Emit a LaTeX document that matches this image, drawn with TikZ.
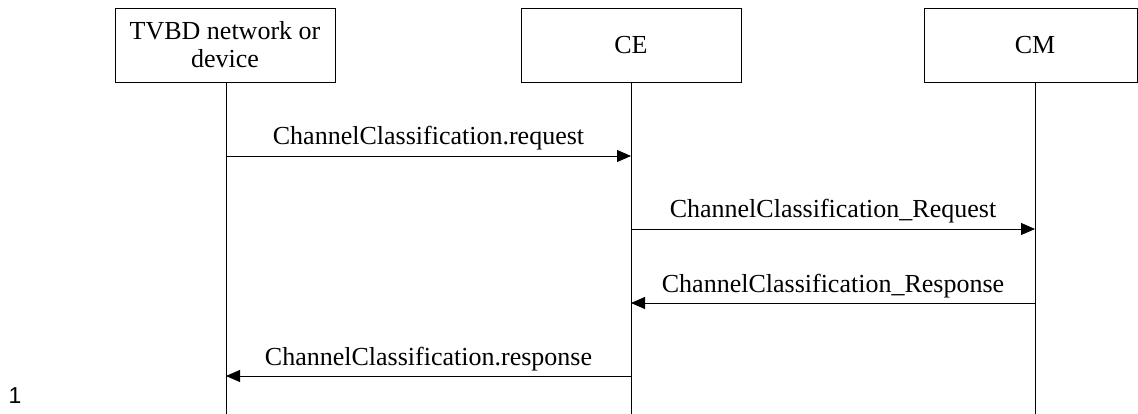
\documentclass[tikz,border=0pt]{standalone}
\usepackage{fontspec}
\setmainfont{Liberation Serif}
\newfontfamily\numfont{Liberation Sans}
\usetikzlibrary{arrows.meta}
\begin{document}
\begin{tikzpicture}[x=1pt,y=-1pt,
  ent/.style={draw,line width=0.8pt,minimum height=74pt,inner sep=0pt,align=center,font=\fontsize{26}{28}\selectfont},
  life/.style={line width=0.8pt},
  msg/.style={line width=0.8pt,-{Triangle[length=14pt,width=12pt]}},
  lbl/.style={font=\fontsize{26}{28}\selectfont,inner sep=0pt,anchor=base}]
\useasboundingbox (0,0) rectangle (1138,414);
\node[ent,minimum width=220pt] (tv) at (225,45) {TVBD network or\\device};
\node[ent,minimum width=220pt] (ce) at (631,45) {CE};
\node[ent,minimum width=213pt] (cm) at (1030.5,45) {};
\node[font=\fontsize{26}{28}\selectfont] (cmt) at (1035,45) {CM};
\coordinate (tvb) at (226,414);
\coordinate (ceb) at (631,414);
\coordinate (cmb) at (1035,414);
\coordinate (tvt) at (226,82);
\coordinate (cet) at (631,82);
\coordinate (cmt2) at (1035,82);
\draw[life] (tvt) -- (tvb);
\draw[life] (cet) -- (ceb);
\draw[life] (cmt2) -- (cmb);
\coordinate (a1s) at (226,156); \coordinate (a1e) at (631,156);
\coordinate (a2s) at (631,229); \coordinate (a2e) at (1035,229);
\coordinate (a3s) at (1035,303); \coordinate (a3e) at (631,303);
\coordinate (a4s) at (631,376); \coordinate (a4e) at (226,376);
\draw[msg] (a1s) -- (a1e);
\draw[msg] (a2s) -- (a2e);
\draw[msg] (a3s) -- (a3e);
\draw[msg] (a4s) -- (a4e);
\node[lbl] (l1) at (428.5,145) {ChannelClassification.request};
\node[lbl] (l2) at (833,218) {ChannelClassification\_Request};
\node[lbl] (l3) at (833,292) {ChannelClassification\_Response};
\node[lbl] (l4) at (428.5,365) {ChannelClassification.response};
\node[font=\numfont\fontsize{23}{24}\selectfont,inner sep=0pt] (n1) at (15,396) {1};
\end{tikzpicture}
\end{document}
